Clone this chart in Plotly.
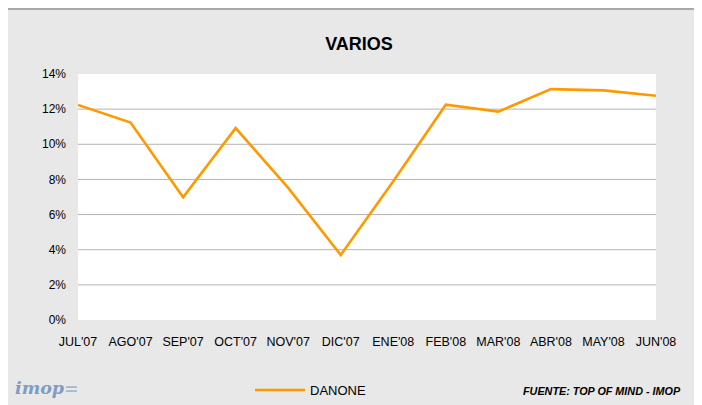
import plotly.graph_objects as go

# Data
months = ["JUL'07", "AGO'07", "SEP'07", "OCT'07", "NOV'07", "DIC'07",
          "ENE'08", "FEB'08", "MAR'08", "ABR'08", "MAY'08", "JUN'08"]
danone = [12.24, 11.24, 6.99, 10.92, 7.52, 3.70,
          7.89, 12.25, 11.86, 13.14, 13.07, 12.76]
y_ticks = [0, 2, 4, 6, 8, 10, 12, 14]

# the page body keeps its default 8px margin, so the figure is 8px smaller
OFF = 8
W, H = 702 - OFF, 405 - OFF
# plot area in screen pixels: x 78..656, y 74..320
L, R, T, B = 78 - OFF, 702 - 656, 74 - OFF, 405 - 320
pw, ph = W - L - R, H - T - B


def px_x(sx):
    """screen x pixel -> paper x"""
    return (sx - OFF - L) / pw


def px_y(sy):
    """screen y pixel -> paper y"""
    return (H - B - (sy - OFF)) / ph


fig = go.Figure()
fig.add_trace(go.Scatter(
    x=months,
    y=danone,
    mode="lines",
    name="DANONE",
    line=dict(color="#FF9900", width=2.6),
))

shapes = [
    # outer chart frame
    dict(type="rect", xref="paper", yref="paper", layer="below",
         x0=px_x(7), x1=px_x(712),
         y0=px_y(415), y1=px_y(9),
         fillcolor="#e8e8e8", line=dict(color="#a8a8a8", width=2)),
    # plot area
    dict(type="rect", xref="paper", yref="paper", layer="below",
         x0=0, x1=1, y0=0, y1=1, fillcolor="white", line=dict(width=0)),
]
for v in y_ticks[1:-1]:
    shapes.append(dict(type="line", xref="paper", yref="y", layer="below",
                       x0=0, x1=1, y0=v, y1=v,
                       line=dict(color="#b4b4b4", width=1)))

font_family = "Liberation Sans, Arial, sans-serif"

fig.update_layout(
    width=W,
    height=H,
    margin=dict(l=L, r=R, t=T, b=B, autoexpand=False),
    paper_bgcolor="white",
    plot_bgcolor="rgba(0,0,0,0)",
    font=dict(family=font_family, size=12, color="#000000"),
    title=dict(text="<b>VARIOS</b>", x=(359 - OFF) / W, xanchor="center",
               y=1 - (44 - OFF) / H, yanchor="middle",
               font=dict(size=18, family=font_family, color="#000000")),
    xaxis=dict(
        type="category",
        range=[0, len(months) - 1],
        showgrid=False, zeroline=False, showline=False,
        tickfont=dict(size=12.5),
        ticks="", ticklen=0,
        ticklabelstandoff=12,
        automargin=False,
    ),
    yaxis=dict(
        range=[0, 14],
        tickvals=y_ticks,
        ticktext=[f"{v}%" for v in y_ticks],
        showgrid=False, zeroline=False, showline=False,
        tickfont=dict(size=12),
        ticks="", ticklen=0,
        ticklabelstandoff=11,
        automargin=False,
    ),
    shapes=shapes,
    showlegend=True,
    legend=dict(
        orientation="h",
        x=px_x(250), xanchor="left",
        y=px_y(390), yanchor="middle",
        bgcolor="rgba(0,0,0,0)",
        font=dict(size=13),
        itemwidth=50,
    ),
    annotations=[
        dict(text="<b><i>FUENTE: TOP OF MIND - IMOP</i></b>",
             xref="paper", yref="paper",
             x=px_x(683), xanchor="right",
             y=px_y(391), yanchor="middle",
             showarrow=False, font=dict(size=10.8, family=font_family)),
        dict(text=("<i><b>imop</b></i>"
                   "<span style='color:#a9b9cc'><b>=</b></span>"),
             xref="paper", yref="paper",
             x=px_x(13), xanchor="left",
             y=px_y(388), yanchor="middle",
             showarrow=False,
             font=dict(size=17.5, family="DejaVu Serif, serif", color="#7f9cc4")),
    ],
)

fig.write_html("out.html")
